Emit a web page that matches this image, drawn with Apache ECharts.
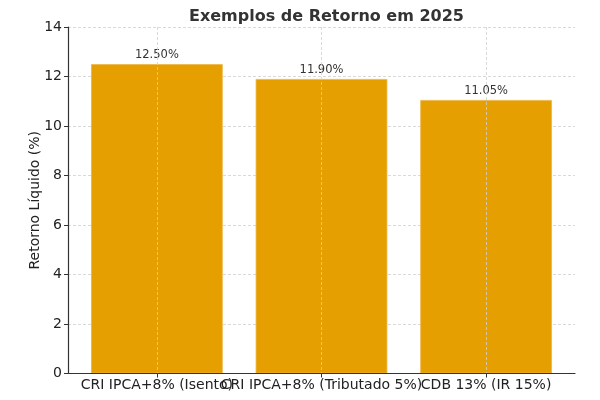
<!DOCTYPE html>
<html>
<head>
<meta charset="utf-8">
<script src="https://cdn.jsdelivr.net/npm/echarts@6/dist/echarts.min.js"></script>
<style>html,body{margin:0;padding:0;background:#fff}#c{width:600px;height:400px}</style>
</head>
<body>
<div id="c"></div>
<script>
const categories = ['CRI IPCA+8% (Isento)', 'CRI IPCA+8% (Tributado 5%)', 'CDB 13% (IR 15%)'];
const values = [12.50, 11.90, 11.05];
const yTicks = [0, 2, 4, 6, 8, 10, 12, 14];
const titleText = 'Exemplos de Retorno em 2025';
const yName = 'Retorno Líquido (%)';

const positions = categories.map((c, i) => i);
const xMin = -0.54, xMax = 2.54;
const font = 'DejaVu Sans, sans-serif';
const chart = echarts.init(document.getElementById('c'), null, {renderer: 'canvas'});
chart.setOption({
  animation: false,
  backgroundColor: '#fff',
  title: {
    text: titleText, left: 184, top: 4,
    textStyle: {fontFamily: font, fontSize: 16, fontWeight: 'bold', color: '#333'}
  },
  grid: {left: 68, right: 25, top: 27, bottom: 26.5, containLabel: false},
  xAxis: {
    type: 'value', min: xMin, max: xMax, z: 3,
    axisLine: {show: true, onZero: false, lineStyle: {color: '#333', width: 1.2}},
    axisTick: {show: true, customValues: positions, length: 4, lineStyle: {color: '#333'}},
    axisLabel: {
      customValues: [xMin].concat(positions, [xMax]),
      fontFamily: font, fontSize: 14, color: '#222', margin: 5,
      hideOverlap: false,
      formatter: v => (Number.isInteger(v) && categories[v] !== undefined) ? categories[v] : ''
    },
    splitLine: {show: true, lineStyle: {color: '#cfcfcf', type: [3, 2], width: 0.8}}
  },
  yAxis: {
    type: 'value', min: 0, max: 14, interval: 2,
    name: yName, nameLocation: 'middle', nameGap: 26, nameMoveOverlap: false,
    nameTextStyle: {fontFamily: font, fontSize: 14, color: '#222'},
    axisLine: {show: true, onZero: false, lineStyle: {color: '#333', width: 1.2}},
    axisTick: {show: true, length: 4, lineStyle: {color: '#333'}},
    axisLabel: {fontFamily: font, fontSize: 14, color: '#222', margin: 6,
      formatter: v => yTicks.includes(v) ? String(v) : ''},
    splitLine: {show: true, lineStyle: {color: '#cfcfcf', type: [3, 2], width: 0.8}}
  },
  series: [{
    type: 'bar',
    barWidth: '80%',
    data: positions.map(i => [i, values[i]]),
    itemStyle: {color: '#E69F00', borderColor: '#EDB545', borderWidth: 0.8},
    label: {
      show: true, position: 'top', distance: 3,
      fontFamily: font, fontSize: 11.5, color: '#333',
      formatter: p => p.value[1].toFixed(2) + '%'
    }
  }]
});
</script>
</body>
</html>
